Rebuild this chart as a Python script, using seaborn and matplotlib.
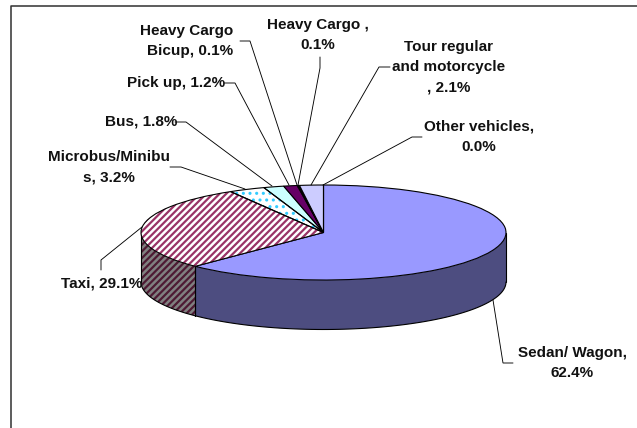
import numpy as np
import matplotlib
matplotlib.use('Agg')
import matplotlib.pyplot as plt
from matplotlib.patches import Wedge
import seaborn as sns

# Values
categories = ['Sedan/ Wagon', 'Taxi', 'Microbus/Minibus', 'Bus', 'Pick up',
              'Heavy Cargo Bicup', 'Heavy Cargo', 'Tour regular and motorcycle', 'Other vehicles']
shares = [62.4, 29.1, 3.2, 1.8, 1.2, 0.1, 0.1, 2.1, 0.0]
top_colors = ['#9999FF', '#FFFFFF', '#FFFFFF', '#CCFFFF', '#660066',
              '#FF8080', '#0066CC', '#CCCCFF', '#000080']
side_colors = ['#4D4D80', '#808080', '#808080', '#668080', '#330033',
               '#804040', '#003366', '#666680', '#000040']

label_texts = ['Sedan/ Wagon,\n62.4%', 'Taxi, 29.1%', 'Microbus/Minibu\ns, 3.2%', 'Bus, 1.8%',
               'Pick up, 1.2%', 'Heavy Cargo\nBicup, 0.1%', 'Heavy Cargo ,\n0.1%',
               'Tour regular\nand motorcycle\n, 2.1%', 'Other vehicles,\n0.0%']
label_align = ['center', 'center', 'center', 'center', 'center', 'right', 'center', 'center', 'center']
# label centre, then leader line, all in pixels of the 637x428 picture
label_pos = [(572, 363), (102, 283), (109, 167), (141, 122), (176, 83),
             (187, 41), (318, 35), (449, 67), (479, 137)]
leaders = [[(493, 300), (503, 363), (513, 363)],
           [(142, 227), (101, 260), (101, 270)],
           [(245, 189), (181, 167), (170, 167)],
           [(272, 186), (186, 122), (175, 122)],
           [(289, 185), (235, 83), (224, 83)],
           [(297, 185), (250, 41), (240, 41)],
           [(298, 185), (320, 68), (320, 57)],
           [(311, 185), (379, 67), (390, 67)],
           [(323, 185), (412, 137), (422, 137)]]

W, H = 637, 428
CX, CY, RX, RY, DEPTH = 323.5, 232.5, 182.5, 47.5, 49.5
DPI = 80  # hatch tile follows the dpi, 80 gives the stripe spacing of the reference

sns.set_theme(style='white')
plt.rcParams['font.family'] = ['Liberation Sans', 'DejaVu Sans']
plt.rcParams['hatch.linewidth'] = 2.0

fig = plt.figure(figsize=(W / DPI, H / DPI), dpi=DPI)
ax = fig.add_axes([0, 0, 1, 1])

wedges, _ = ax.pie(shares, colors=sns.color_palette(top_colors), startangle=90, counterclock=False,
                   normalize=True, wedgeprops=dict(linewidth=1.0, edgecolor='black'))
# squash the pie: data units on each axis map to the ellipse radii
ax.set_aspect('auto')
ax.set_xlim(-CX / RX, (W - CX) / RX)
ax.set_ylim((CY - H) / RY, CY / RY)


def px(x, y):
    return (x - CX) / RX, (CY - y) / RY


# side wall, computed from the slice angles
ends = 90 - np.cumsum(shares) * 3.6
starts = np.r_[90, ends[:-1]]
d = DEPTH / RY
for i, (a0, a1) in enumerate(zip(starts, ends)):
    lo, hi = max(a1, -180), min(a0, 0)
    if hi <= lo:
        continue
    t = np.radians(np.linspace(hi, lo, 80))
    x, y = np.cos(t), np.sin(t)
    ax.fill_between(x, y - d, y, color=side_colors[i], edgecolor='none', zorder=0.5)
    if i == 1:
        ax.fill_between(x, y - d, y, facecolor='none', edgecolor='#4D1A33', hatch='////', lw=0, zorder=0.55)
    ax.plot(x, y - d, color='black', lw=1.0, zorder=0.6)
    ax.plot([x[0], x[0]], [y[0], y[0] - d], color='black', lw=1.0, zorder=0.6)
    ax.plot([x[-1], x[-1]], [y[-1], y[-1] - d], color='black', lw=1.0, zorder=0.6)

# patterned slices: hatch layer under the outline
wedges[1].set_facecolor('white')
wedges[1].set_edgecolor('#993366')
wedges[1].set_hatch('////')
wedges[2].set_edgecolor('#33CCFF')
wedges[2].set_hatch('..')
wedges[2]._hatch_linewidth = 1.6
for i in (1, 2):
    w = wedges[i]
    w.set_linewidth(0)
    ax.add_patch(Wedge(w.center, w.r, w.theta1, w.theta2, facecolor='none',
                       edgecolor='black', linewidth=1.0, zorder=w.get_zorder() + 0.1))

# leader lines and labels
for txt, pos, pts, al in zip(label_texts, label_pos, leaders, label_align):
    xs, ys = zip(*[px(*p) for p in pts])
    ax.plot(xs, ys, color='black', lw=0.8, solid_joinstyle='miter', zorder=3)
    ax.text(*px(*pos), txt, ha='center', va='center', multialignment=al, fontsize=13.75,
            fontweight='bold', color='#111111', linespacing=1.55, zorder=4)

# chart frame: only top and left edges show inside the crop
ax.plot(*zip(px(11, H), px(11, 6), px(W, 6)), color='#333333', lw=1.4, zorder=5)

fig.savefig('out.png', dpi=DPI)
